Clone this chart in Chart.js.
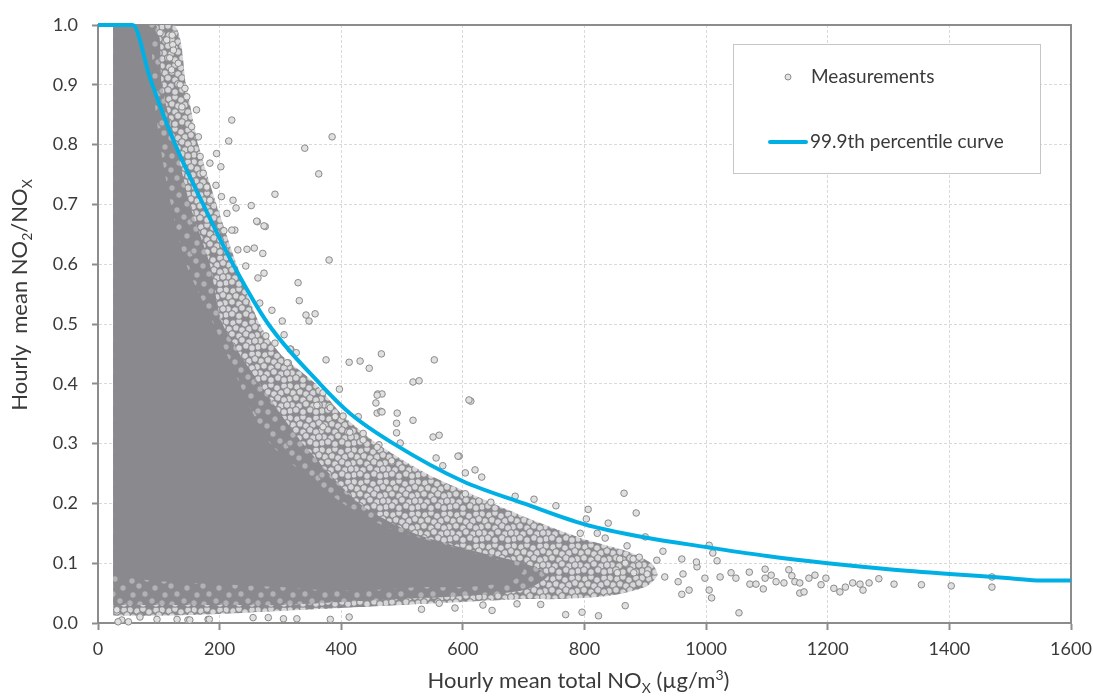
<!DOCTYPE html>
<html>
<head>
<meta charset="utf-8">
<script src="https://cdn.jsdelivr.net/npm/chart.js@4.4.1/dist/chart.umd.min.js"></script>
<style>
  html, body { margin: 0; padding: 0; background: #fff; }
  #wrap { position: relative; width: 1093px; height: 696px; }
</style>
</head>
<body>
<div id="wrap"><canvas id="myChart"></canvas></div>
<script>
// tick labels
const xTicks = [0, 200, 400, 600, 800, 1000, 1200, 1400, 1600]
const yTicks = [0.0, 0.1, 0.2, 0.3, 0.4, 0.5, 0.6, 0.7, 0.8, 0.9, 1.0]

// 99.9th percentile curve
const curveNox   = [0, 57, 86, 127, 173, 222, 280, 365, 415, 486, 600, 700, 800, 900, 1000, 1100, 1200, 1300, 1400, 1500, 1550, 1600]
const curveRatio = [1, 1, 0.91, 0.8, 0.7, 0.6, 0.5, 0.4, 0.35, 0.3, 0.237, 0.2, 0.165, 0.143, 0.127, 0.112, 0.1, 0.09, 0.082, 0.075, 0.071, 0.071]

// outline of the solid part of the measurement cloud
const coreNox   = [25, 82, 90, 102, 120, 145, 190, 233, 255, 283, 338, 403, 480, 580, 660, 700, 680, 600, 535, 450, 370, 300, 206, 100, 60, 25]
const coreRatio = [1.0, 1.0, 0.9, 0.8, 0.7, 0.6, 0.5, 0.4, 0.35, 0.3, 0.25, 0.2, 0.158, 0.128, 0.105, 0.09, 0.07, 0.06, 0.06, 0.055, 0.055, 0.06, 0.065, 0.07, 0.075, 0.08]

// outline of the heavily overlapped part of the cloud
const innerNox   = [25, 95, 105, 128, 151, 184, 205, 266, 337, 430, 520, 620, 700, 740, 700, 600, 500, 400, 300, 200, 100, 25]
const innerRatio = [1.0, 1.0, 0.9, 0.8, 0.7, 0.6, 0.5, 0.4, 0.3, 0.2, 0.15, 0.12, 0.1, 0.08, 0.055, 0.045, 0.04, 0.035, 0.03, 0.03, 0.03, 0.03]

// outline of the packed circles around the edge of the cloud
const bandNox   = [25, 125, 145, 165, 195, 228, 266, 300, 358, 400, 459, 540, 650, 720, 800, 870, 910, 920, 900, 840, 760, 700, 600, 500, 400, 300, 200, 100, 25]
const bandRatio = [1.0, 1.0, 0.9, 0.8, 0.7, 0.6, 0.5, 0.45, 0.4, 0.35, 0.3, 0.25, 0.2, 0.17, 0.14, 0.12, 0.1, 0.08, 0.06, 0.045, 0.04, 0.04, 0.035, 0.03, 0.025, 0.02, 0.015, 0.012, 0.012]

// single measurements that stand out of the cloud [NOx, NO2/NOx]
const upperFringe = [
  [102,.987],[113,.975],[122,.983],[123,.967],[124,.958],[118,.945],[132,.936],[121,.925],[135,.9],[143,.894],
  [146,.88],[138,.863],[162,.858],[154,.83],[165,.813],[168,.78],[195,.785],[184,.769],[202,.763],[173,.752],
  [179,.729],[194,.732],[184,.707],[203,.713],[222,.707],[212,.685],[227,.694],[252,.698],[291,.717],[262,.671],
  [275,.663],[225,.657],[220,.841],[215,.806],[261,.672],[273,.664],[220,.657],[207,.656],[245,.625],[257,.627],
  [271,.618],[230,.624],[243,.597],[273,.585],[263,.577],[286,.523],[266,.535],[303,.505],[276,.48],[306,.482],
  [291,.468],[317,.458],[326,.452],[313,.435]
]
const farOutliers = [
  [385,.813],[340,.794],[363,.751],[380,.607],[329,.569],[331,.539],[342,.515],[347,.505],[357,.517],[316,.458],
  [311,.435],[375,.44],[413,.436],[431,.438],[446,.426],[466,.45],[553,.44],[397,.391],[518,.403],[528,.405],
  [613,.371],[610,.373]
]
const midFringe = [
  [460,.383],[457,.368],[459,.351],[465,.354],[492,.351],[491,.334],[518,.339],[491,.318],[497,.301],[551,.311],
  [561,.314],[370,.385],[380,.363],[390,.345],[403,.346],[428,.345],[436,.317],[462,.298],[414,.319],[370,.328],
  [467,.353],[467,.383],[459,.381],[459,.294],[436,.306],[382,.36],[360,.364],[483,.271],[556,.276],[567,.263],
  [594,.279],[592,.279],[604,.251],[620,.256],[631,.244],[604,.216],[646,.202],[686,.212],[717,.207],[753,.196],
  [806,.19],[803,.174],[865,.217],[885,.184],[839,.167],[793,.15],[821,.15],[834,.142],[870,.129],[900,.144],
  [929,.12],[960,.107],[1005,.13],[1011,.117],[1018,.104],[985,.094],[919,.105],[880,.107],[858,.107],[890,.11],
  [867,.1]
]
const rightTail = [
  [854,.084],[881,.084],[903,.082],[932,.077],[954,.069],[962,.082],[984,.102],[998,.075],[1005,.055],[1009,.042],
  [960,.048],[972,.055],[1023,.077],[1041,.084],[1049,.075],[1054,.017],[1071,.085],[1072,.065],[1082,.065],[1097,.09],
  [1097,.075],[1094,.057],[1107,.08],[1115,.069],[1128,.067],[1136,.089],[1141,.079],[1146,.069],[1154,.067],[1154,.05],
  [1161,.052],[1169,.075],[1179,.08],[1189,.064],[1197,.075],[1210,.058],[1220,.052],[1229,.06],[1241,.067],[1253,.065],
  [1258,.055],[1268,.067],[1284,.074],[1309,.065],[1354,.064],[1403,.062],[1470,.06],[1470,.077]
]
const lowerEdge = [
  [532,.023],[587,.025],[648,.021],[689,.032],[728,.031],[769,.014],[796,.018],[823,.012],[867,.029],[633,.03],
  [561,.033],[413,.01],[382,.006],[305,.007],[327,.007],[255,.009],[280,.009],[181,.006],[183,.006],[148,.005],
  [151,.005],[130,.006],[97,.006],[69,.01],[50,.002],[39,.005],[33,.002],[31,.022]
]

const measurements = [...upperFringe, ...farOutliers, ...midFringe, ...rightTail, ...lowerEdge]
  .map(([x, y]) => ({x, y}))

const toXY = (xs, ys) => xs.map((x, i) => ({x, y: ys[i]}))

const AXIS_GREY = '#8c8c8c'
const CLOUD_GREY = '#8a8a8e'
const TEXT = '#3a3a3a'
const FONT = 'Lato'

// texture of overlapping measurement circles, used to fill parts of the cloud
function circlePattern(spots, fill, r) {
  const c = document.createElement('canvas')
  c.width = 32; c.height = 32
  const g = c.getContext('2d')
  g.fillStyle = CLOUD_GREY
  g.fillRect(0, 0, 32, 32)
  for (const [cx, cy] of spots) {
    for (const dx of [-32, 0, 32]) {
      for (const dy of [-32, 0, 32]) {
        g.beginPath()
        g.arc(cx + dx, cy + dy, r, 0, Math.PI * 2)
        g.fillStyle = fill
        g.fill()
        g.lineWidth = 1.1
        g.strokeStyle = CLOUD_GREY
        g.stroke()
      }
    }
  }
  return g.createPattern(c, 'repeat')
}

const packedSpots = [
  [2,2],[9,3],[15,1],[21,4],[28,2],
  [5,9],[12,8],[18,10],[25,9],[31,7],
  [1,15],[8,14],[15,16],[22,14],[28,16],
  [4,21],[11,22],[18,20],[25,22],[31,21],
  [2,27],[8,26],[15,28],[22,26],[28,28]
]
const sparseSpots = [[4,5],[19,3],[11,10],[27,12],[5,19],[17,18],[24,25],[12,28],[30,30],[2,27]]

// text with sub/superscripts, centred on the current origin
function richText(ctx, parts, size) {
  const fontFor = p => `${p.sub || p.sup ? Math.round(size * 0.65) : size}px ${FONT}`
  let total = 0
  parts.forEach(p => { ctx.font = fontFor(p); total += ctx.measureText(p.t).width })
  let x = -total / 2
  parts.forEach(p => {
    ctx.font = fontFor(p)
    const dy = p.sub ? size * 0.22 : (p.sup ? -size * 0.38 : 0)
    ctx.fillText(p.t, x, dy)
    x += ctx.measureText(p.t).width
  })
}

const framePlugin = {
  id: 'frame',
  beforeDatasetsDraw(chart) {
    const {ctx, chartArea: a} = chart
    ctx.save()
    ctx.strokeStyle = AXIS_GREY
    ctx.lineWidth = 2
    ctx.beginPath()
    ctx.moveTo(a.left, a.top)
    ctx.lineTo(a.right, a.top)
    ctx.lineTo(a.right, a.bottom)
    ctx.stroke()
    ctx.restore()
  }
}

const titlePlugin = {
  id: 'axisTitles',
  afterDraw(chart) {
    const {ctx, chartArea: a} = chart
    ctx.save()
    ctx.fillStyle = TEXT
    ctx.textBaseline = 'alphabetic'
    ctx.textAlign = 'left'
    ctx.translate((a.left + a.right) / 2 - 6, 688)
    richText(ctx, [{t: 'Hourly mean total NO'}, {t: 'X', sub: true}, {t: ' (\u00b5g/m'}, {t: '3', sup: true}, {t: ')'}], 22)
    ctx.restore()

    ctx.save()
    ctx.fillStyle = TEXT
    ctx.textBaseline = 'alphabetic'
    ctx.textAlign = 'left'
    ctx.translate(27, (a.top + a.bottom) / 2 - 29)
    ctx.rotate(-Math.PI / 2)
    richText(ctx, [{t: 'Hourly  mean NO'}, {t: '2', sub: true}, {t: '/NO'}, {t: 'X', sub: true}], 22)
    ctx.restore()
  }
}

const legendPlugin = {
  id: 'boxLegend',
  afterDraw(chart) {
    const {ctx} = chart
    ctx.save()
    ctx.fillStyle = '#ffffff'
    ctx.fillRect(733.5, 44.5, 307, 129)
    ctx.strokeStyle = '#c6c6c6'
    ctx.lineWidth = 1
    ctx.strokeRect(733.5, 44.5, 307, 129)

    ctx.beginPath()
    ctx.arc(788, 77, 3, 0, Math.PI * 2)
    ctx.fillStyle = '#e4e4e4'
    ctx.fill()
    ctx.strokeStyle = '#8c8c8c'
    ctx.stroke()

    ctx.beginPath()
    ctx.moveTo(770, 142)
    ctx.lineTo(806, 142)
    ctx.strokeStyle = '#00b0e4'
    ctx.lineWidth = 4
    ctx.lineCap = 'round'
    ctx.stroke()

    ctx.fillStyle = TEXT
    ctx.font = `19px ${FONT}`
    ctx.textBaseline = 'middle'
    ctx.fillText('Measurements', 811, 77)
    ctx.fillText('99.9th percentile curve', 810, 142)
    ctx.restore()
  }
}

const cloudLayer = (label, xs, ys, fill, order) => ({
  type: 'line',
  label,
  data: toXY(xs, ys),
  fill: 'shape',
  backgroundColor: fill,
  borderColor: 'rgba(0,0,0,0)',
  borderWidth: 0,
  pointRadius: 0,
  tension: 0.25,
  order
})

new Chart(document.getElementById('myChart'), {
  type: 'scatter',
  data: {
    datasets: [
      {
        type: 'line',
        label: '99.9th percentile curve',
        data: toXY(curveNox, curveRatio),
        borderColor: '#00b0e4',
        borderWidth: 4,
        pointRadius: 0,
        cubicInterpolationMode: 'monotone',
        fill: false,
        clip: 6,
        order: 0
      },
      {
        label: 'Measurements',
        data: measurements,
        pointRadius: 3.3,
        backgroundColor: '#e0e0e0',
        borderColor: '#8a8a8a',
        borderWidth: 1,
        clip: false,
        order: 1
      },
      cloudLayer('cloud core', coreNox, coreRatio, CLOUD_GREY, 2),
      cloudLayer('cloud inner', innerNox, innerRatio, circlePattern(sparseSpots, '#b2b2b5', 3.2), 3),
      cloudLayer('cloud edge', bandNox, bandRatio, circlePattern(packedSpots, '#d6d6d8', 3.3), 4)
    ]
  },
  options: {
    responsive: true,
    maintainAspectRatio: false,
    animation: false,
    layout: { padding: { top: 25, right: 22, left: 0, bottom: 0 } },
    plugins: {
      legend: { display: false },
      tooltip: { enabled: false }
    },
    scales: {
      x: {
        type: 'linear',
        min: 0,
        max: 1600,
        afterBuildTicks: s => { s.ticks = xTicks.map(v => ({value: v})) },
        afterFit: s => { s.height = 73; s.paddingLeft = 0; s.paddingRight = 0 },
        grid: { color: '#d9d9d9', lineWidth: 1, tickLength: 7, tickColor: AXIS_GREY, tickWidth: 2 },
        border: { color: AXIS_GREY, width: 2, dash: [3, 2] },
        ticks: { color: TEXT, font: { family: FONT, size: 18 }, padding: 8, maxRotation: 0, callback: v => String(v) }
      },
      y: {
        type: 'linear',
        min: 0,
        max: 1,
        afterBuildTicks: s => { s.ticks = yTicks.map(v => ({value: v})) },
        afterFit: s => { s.width = 98; s.paddingTop = 0; s.paddingBottom = 0 },
        grid: { color: '#d9d9d9', lineWidth: 1, tickLength: 6, tickColor: AXIS_GREY, tickWidth: 2 },
        border: { color: AXIS_GREY, width: 2, dash: [3, 2] },
        ticks: { color: TEXT, font: { family: FONT, size: 18 }, padding: 14, callback: v => v.toFixed(1) }
      }
    }
  },
  plugins: [framePlugin, titlePlugin, legendPlugin]
})
</script>
</body>
</html>
